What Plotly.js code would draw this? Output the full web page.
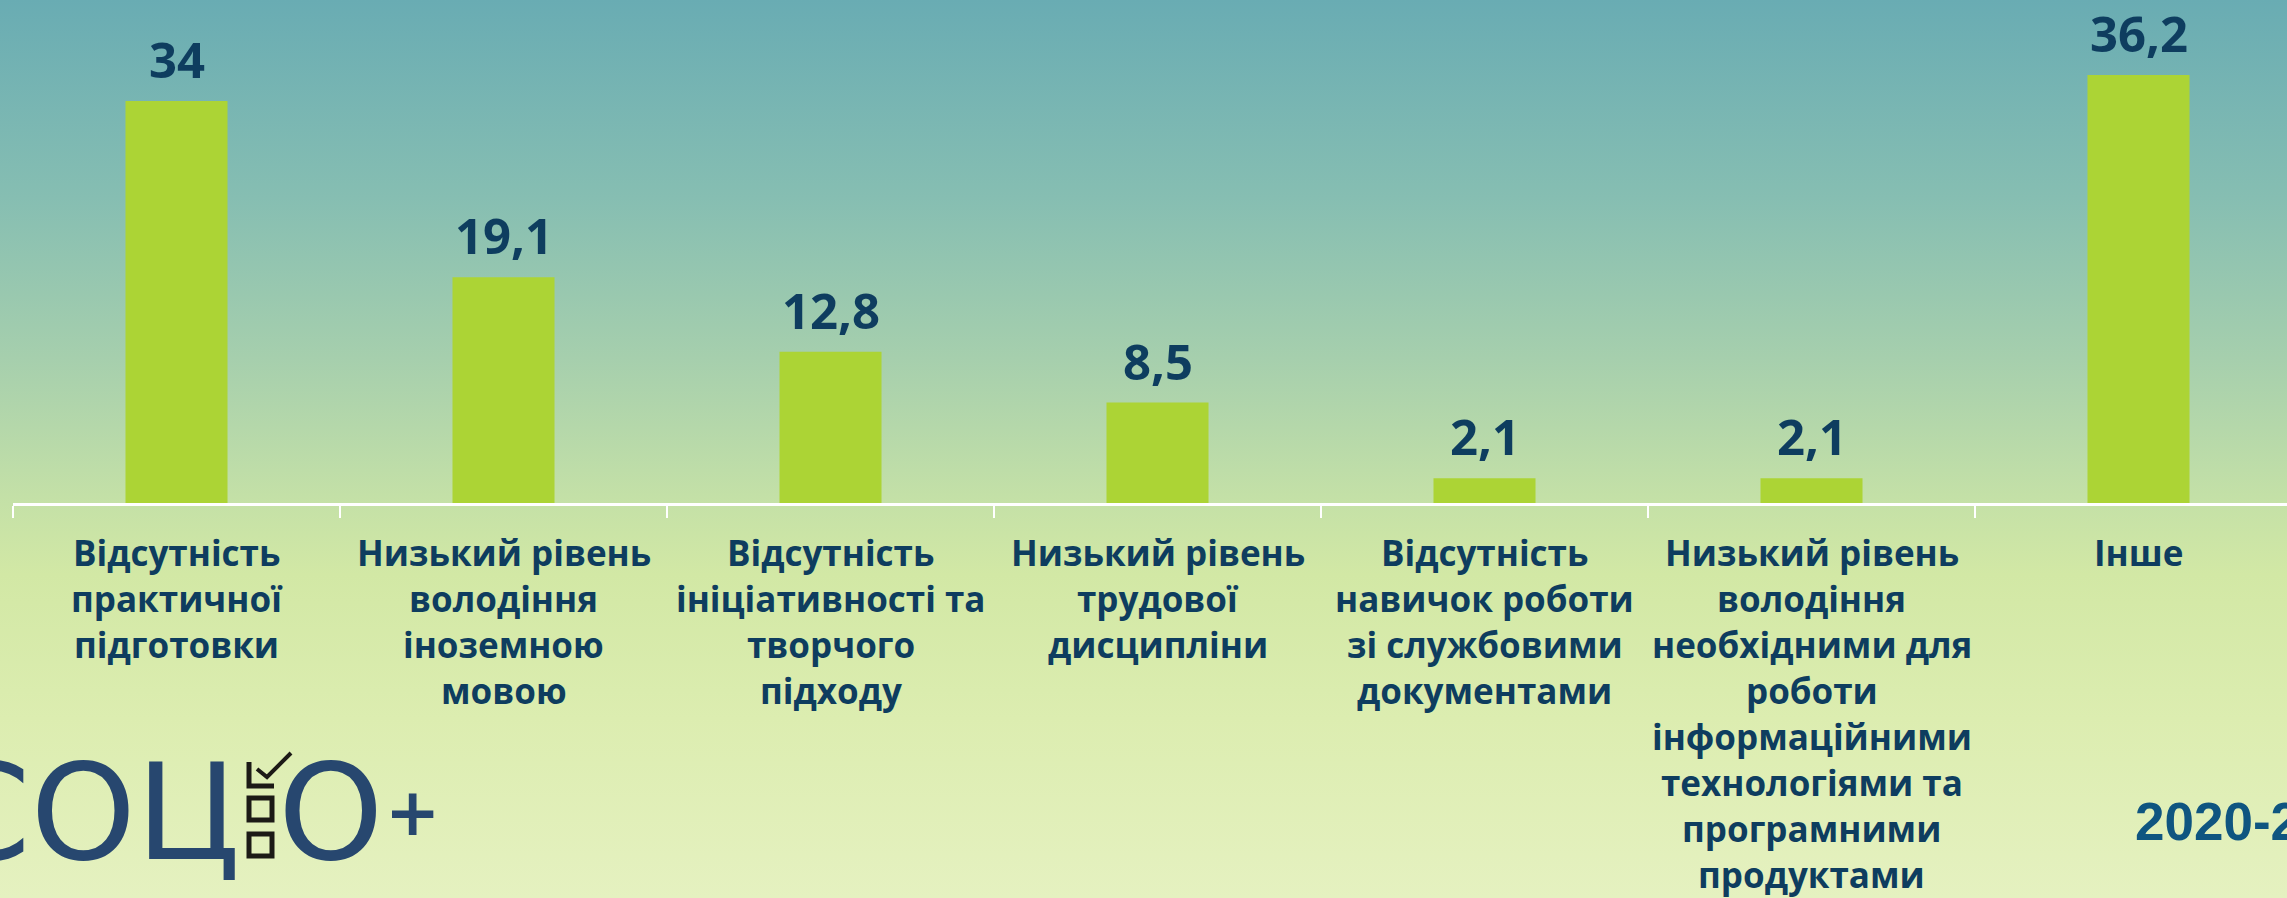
<!DOCTYPE html>
<html>
<head>
<meta charset="utf-8">
<script src="https://cdn.plot.ly/plotly-3.0.1.min.js"></script>
<style>
  html, body { margin: 0; padding: 0; overflow: hidden; }
  #chart {
    width: 2287px; height: 898px;
    background: linear-gradient(to bottom, #69acb3 0%, #86beb2 22%, #a6cfad 40%, #c3e0a7 55%, #d2e8a5 64%, #dcedb0 80%, #e5f1c0 100%);
  }
</style>
</head>
<body>
<div id="chart"></div>
<script>
// ---- data ----
const categories = [
  "Відсутність<br>практичної<br>підготовки",
  "Низький рівень<br>володіння<br>іноземною<br>мовою",
  "Відсутність<br>ініціативності та<br>творчого<br>підходу",
  "Низький рівень<br>трудової<br>дисципліни",
  "Відсутність<br>навичок роботи<br>зі службовими<br>документами",
  "Низький рівень<br>володіння<br>необхідними для<br>роботи<br>інформаційними<br>технологіями та<br>програмними<br>продуктами",
  "Інше"
];
const values = [34, 19.1, 12.8, 8.5, 2.1, 2.1, 36.2];
const logoText = ["СОЦ", "О", "+"];
const periodText = "2020-2021";

// ---- layout helpers (pixel -> paper) ----
const W = 2287, H = 898;
const mL = 13, mR = 0, mT = 0, mB = 395;
const plotW = W - mL - mR, plotH = H - mT - mB;
const px = x => (x - mL) / plotW;
const py = y => (mT + plotH - y) / plotH;

const navy = "#0e3d5f";
const fmt = v => String(v).replace(".", ",");

const annotations = [];
// value labels
values.forEach((v, i) => {
  annotations.push({
    x: i, y: v, xref: "x", yref: "y",
    text: fmt(v), showarrow: false,
    xanchor: "center", yanchor: "bottom", yshift: 7,
    font: { family: "Open Sans", size: 49, color: navy, weight: 700 }
  });
});
// category labels, one annotation per line with fixed line spacing
categories.forEach((c, i) => {
  c.split("<br>").forEach((line, k) => {
    annotations.push({
      x: i, xref: "x", y: py(527 + k * 46), yref: "paper",
      text: line, showarrow: false,
      xanchor: "center", yanchor: "top",
      font: { family: "Open Sans", size: 35, color: navy, weight: 700 }
    });
  });
});
// logo
const logoColor = "#27476f";
annotations.push({
  x: px(242), y: py(733), xref: "paper", yref: "paper",
  text: logoText[0], showarrow: false, xanchor: "right", yanchor: "top",
  font: { family: "DejaVu Sans", size: 134, color: logoColor }
});
annotations.push({
  x: px(276), y: py(733), xref: "paper", yref: "paper",
  text: logoText[1], showarrow: false, xanchor: "left", yanchor: "top",
  font: { family: "DejaVu Sans", size: 134, color: logoColor }
});
annotations.push({
  x: px(412), y: py(812), xref: "paper", yref: "paper",
  text: logoText[2], showarrow: false, xanchor: "center", yanchor: "middle",
  font: { family: "DejaVu Sans", size: 66, color: logoColor, weight: 700 }
});
// period
annotations.push({
  x: px(2133), y: py(790), xref: "paper", yref: "paper",
  text: periodText, showarrow: false, xanchor: "left", yanchor: "top",
  font: { family: "Liberation Sans", size: 53, color: "#0f5580", weight: 700 }
});

// logo checkboxes (decoration)
const boxC = "#1c1a16";
const shapes = [
  { type: "path", xref: "paper", yref: "paper",
    path: `M ${px(249)} ${py(762)} L ${px(249)} ${py(786)} L ${px(274)} ${py(786)}`,
    line: { color: boxC, width: 5 } },
  { type: "path", xref: "paper", yref: "paper",
    path: `M ${px(257)} ${py(769)} L ${px(267)} ${py(777)} L ${px(291)} ${py(753)}`,
    line: { color: boxC, width: 4 } },
  { type: "rect", xref: "paper", yref: "paper",
    x0: px(249), x1: px(272), y0: py(798), y1: py(820),
    line: { color: boxC, width: 5 } },
  { type: "rect", xref: "paper", yref: "paper",
    x0: px(249), x1: px(272), y0: py(834), y1: py(856),
    line: { color: boxC, width: 5 } }
];

const trace = {
  type: "bar",
  x: categories,
  y: values,
  marker: { color: "#acd435" },
  hoverinfo: "none"
};

const layout = {
  width: W, height: H,
  margin: { l: mL, r: mR, t: mT, b: mB, pad: 0 },
  paper_bgcolor: "rgba(0,0,0,0)",
  plot_bgcolor: "rgba(0,0,0,0)",
  showlegend: false,
  bargap: 0.688,
  xaxis: {
    type: "category",
    range: [-0.5, -0.5 + plotW / 327],
    showticklabels: false,
    tickson: "boundaries",
    ticks: "outside", ticklen: 12, tickwidth: 2, tickcolor: "#ffffff",
    showline: true, linecolor: "#ffffff", linewidth: 3,
    showgrid: false, zeroline: false, fixedrange: true
  },
  yaxis: {
    range: [0, plotH / 11.82],
    visible: false, showgrid: false, zeroline: false, fixedrange: true
  },
  annotations: annotations,
  shapes: shapes
};

Plotly.newPlot("chart", [trace], layout, { staticPlot: true, displayModeBar: false });
</script>
</body>
</html>
